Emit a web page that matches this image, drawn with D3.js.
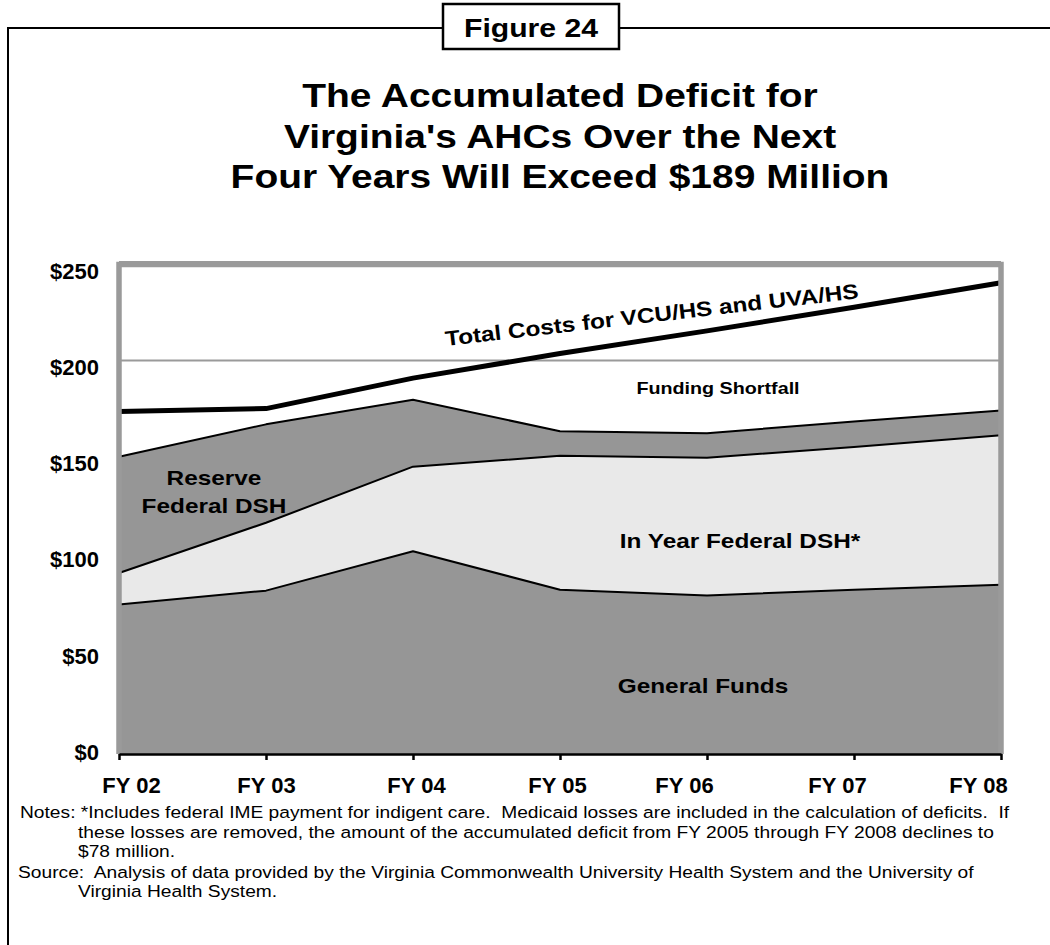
<!DOCTYPE html>
<html><head><meta charset="utf-8">
<script src="https://cdn.jsdelivr.net/npm/d3@7"></script>
<style>
body{margin:0;background:#fff;}
svg{display:block;font-family:"Liberation Sans",Arial,Helvetica,sans-serif;}
text{white-space:pre;}
</style>
</head><body>
<svg id="chart" width="1050" height="945"></svg>
<script>
// ---- data ----
const years = ["FY 02","FY 03","FY 04","FY 05","FY 06","FY 07","FY 08"];
const generalFunds = [76, 83, 103, 83.5, 80.5, 83.5, 86];
const inYearDSH    = [16, 34.5, 43, 68, 70, 72.5, 76];
const reserveDSH   = [59, 50, 34, 12.5, 12.5, 13, 12.5];
const totalCosts   = [174, 175.5, 191, 203.5, 215, 227, 239.5];
const yTicks = [0, 50, 100, 150, 200, 250];
const yTickLabels = ["$0", "$50", "$100", "$150", "$200", "$250"];
const figureLabel = "Figure 24";
const titleLines = ["The Accumulated Deficit for", "Virginia's AHCs Over the Next", "Four Years Will Exceed $189 Million"];
const seriesNames = ["General Funds", "In Year Federal DSH*", "Reserve", "Federal DSH", "Funding Shortfall", "Total Costs for VCU/HS and UVA/HS"];
const noteLines = [
  "Notes: *Includes federal IME payment for indigent care.  Medicaid losses are included in the calculation of deficits.  If",
  "these losses are removed, the amount of the accumulated deficit from FY 2005 through FY 2008 declines to",
  "$78 million.",
  "Source:  Analysis of data provided by the Virginia Commonwealth University Health System and the University of",
  "Virginia Health System."
];

// ---- layout ----
const W = 1050, H = 945;
const svg = d3.select("#chart");
const DARK = "#969696", LIGHT = "#e9e9e9", BORDER = "#9a9a9a";
const STRETCH = 1.16;
const xLabelNudge = [12, 0, 3, -3, -23, -17, -23];

const x = d3.scalePoint().domain(years).range([119, 1001]);
const y = d3.scaleLinear().domain([0, 250]).range([754, 262]);
const yLab = d3.scaleLinear().domain([0, 250]).range([752.5, 271]);

// frame
svg.append("path").attr("d", `M8,${H} V28 H${W}`).attr("fill", "none").attr("stroke", "#000").attr("stroke-width", 2);
svg.append("rect").attr("x", 443).attr("y", 4).attr("width", 176).attr("height", 45)
  .attr("fill", "#fff").attr("stroke", "#000").attr("stroke-width", 2.5);
svg.append("text").attr("transform", `translate(531,37) scale(${STRETCH},1)`)
  .attr("text-anchor", "middle").attr("font-size", 26).attr("font-weight", "bold").text(figureLabel);

// title
titleLines.forEach((t, i) => {
  svg.append("text").attr("transform", `translate(560,${107 + i * 40.5}) scale(1.18,1)`)
    .attr("text-anchor", "middle").attr("font-size", 33).attr("font-weight", "bold").text(t);
});

// gridlines
const g = svg.append("g");
g.selectAll("line.grid").data(yTicks).join("line").attr("class", "grid")
  .attr("x1", x.range()[0]).attr("x2", x.range()[1])
  .attr("y1", d => y(d)).attr("y2", d => y(d))
  .attr("stroke", BORDER).attr("stroke-width", 2);

// stacked areas
const rows = years.map((yr, i) => ({year: yr, gf: generalFunds[i], iy: inYearDSH[i], rs: reserveDSH[i]}));
const stack = d3.stack().keys(["gf", "iy", "rs"])(rows);
const fills = {gf: DARK, iy: LIGHT, rs: DARK};
const area = d3.area().x(d => x(d.data.year)).y0(d => y(d[0])).y1(d => y(d[1]));
const topLine = d3.line().x(d => x(d.data.year)).y(d => y(d[1]));
g.selectAll("path.area").data(stack).join("path").attr("class", "area")
  .attr("d", area).attr("fill", d => fills[d.key]).attr("stroke", "none");
g.selectAll("path.edge").data(stack).join("path").attr("class", "edge")
  .attr("d", topLine).attr("fill", "none").attr("stroke", "#000").attr("stroke-width", 2)
  .attr("stroke-linejoin", "round");

// total cost line
const totalLine = d3.line().x((d, i) => x(years[i])).y(d => y(d));
g.append("path").datum(totalCosts).attr("d", totalLine).attr("fill", "none")
  .attr("stroke", "#000").attr("stroke-width", 5).attr("stroke-linejoin", "round");

// plot border
g.append("path")
  .attr("d", `M${x.range()[0]},${y(0)} V${y(250) + 2.5} H${x.range()[1]} V${y(0)}`)
  .attr("fill", "none").attr("stroke", BORDER).attr("stroke-width", 5.5);

// x axis
const xAxis = svg.append("g").attr("transform", `translate(0,${y(0)})`)
  .call(d3.axisBottom(x).tickSize(6).tickSizeOuter(0).tickPadding(17));
xAxis.select(".domain").attr("stroke", "#000").attr("stroke-width", 2.5);
xAxis.selectAll(".tick line").attr("stroke", "#000").attr("stroke-width", 2.5);
xAxis.selectAll(".tick text").attr("font-size", 22).attr("font-weight", "bold")
  .attr("font-family", "Liberation Sans, Arial, sans-serif").attr("fill", "#000")
  .attr("dx", (d, i) => xLabelNudge[i]);

// y axis labels
const yAxis = svg.append("g").attr("transform", "translate(100,0)")
  .call(d3.axisLeft(yLab).tickValues(yTicks).tickFormat((d, i) => yTickLabels[i]).tickSize(0).tickPadding(1));
yAxis.select(".domain").remove();
yAxis.selectAll(".tick text").attr("font-size", 22).attr("font-weight", "bold")
  .attr("font-family", "Liberation Sans, Arial, sans-serif").attr("fill", "#000");

// in-plot labels
function label(txt, cx, by, size, rot, anchor) {
  svg.append("text")
    .attr("transform", `translate(${cx},${by}) rotate(${rot || 0}) scale(${STRETCH},1)`)
    .attr("text-anchor", anchor || "middle").attr("font-size", size).attr("font-weight", "bold").text(txt);
}
label(seriesNames[5], 446, 346, 21, -6.6, "start");
label(seriesNames[4], 718, 394, 17);
label(seriesNames[2], 214, 485, 21);
label(seriesNames[3], 214, 513, 21);
label(seriesNames[1], 740, 548, 21);
label(seriesNames[0], 703, 693, 21);

// notes
const noteX = [20, 78, 78, 18, 78];
const noteY = [818, 838, 857, 878, 897];
noteLines.forEach((t, i) => {
  svg.append("text").attr("transform", `translate(${noteX[i]},${noteY[i]}) scale(1.13,1)`)
    .attr("font-size", 17).text(t);
});
</script>
</body></html>
